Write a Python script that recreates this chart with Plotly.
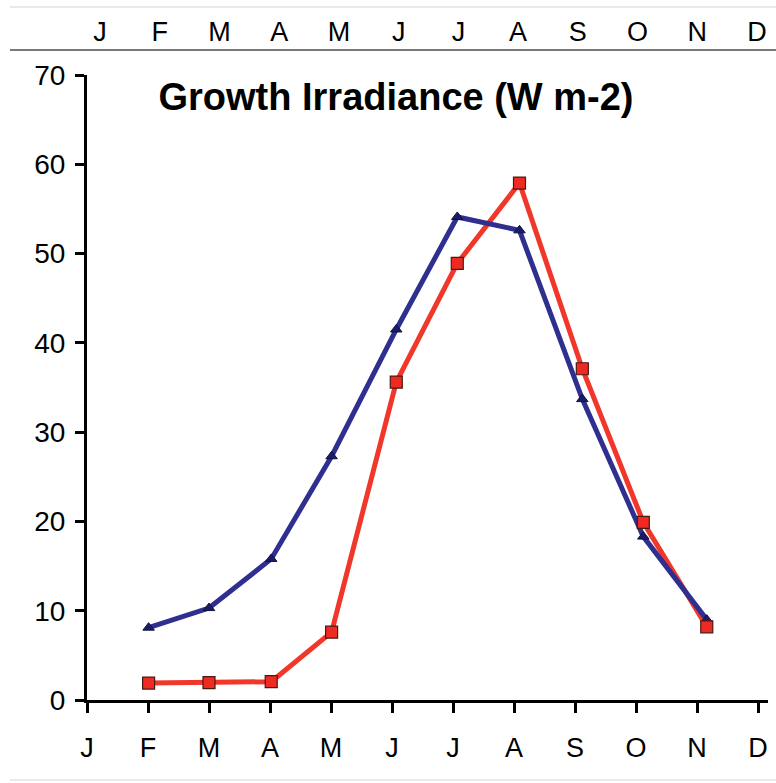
import plotly.graph_objects as go

# ---- data ----
month_labels = ["J", "F", "M", "A", "M", "J", "J", "A", "S", "O", "N", "D"]
month_ticks = list(range(12))
sample_pos = [1.01, 2.0, 3.02, 4.01, 5.07, 6.07, 7.09, 8.12, 9.12, 10.16]
blue_values = [8.1, 10.3, 15.8, 27.3, 41.5, 54.1, 52.6, 33.7, 18.3, 9.0]
red_values = [1.9, 1.95, 2.05, 7.6, 35.6, 48.9, 57.9, 37.1, 19.9, 8.2]
y_ticks = [0, 10, 20, 30, 40, 50, 60, 70]
title_text = "Growth Irradiance (W m-2)"

W, H = 776, 783
FONT = "Liberation Sans, Arial, sans-serif"

blue_line = "#2e2f8f"
red_line = "#f0372a"

fig = go.Figure()

fig.add_trace(go.Scatter(
    x=sample_pos, y=red_values, mode="lines",
    line=dict(color=red_line, width=5), hoverinfo="skip", showlegend=False,
))
fig.add_trace(go.Scatter(
    x=sample_pos, y=blue_values, mode="lines+markers",
    line=dict(color=blue_line, width=5),
    marker=dict(symbol="triangle-up", size=10, color="#1c1c66",
                line=dict(color="#111144", width=1)),
    showlegend=False,
))
fig.add_trace(go.Scatter(
    x=sample_pos, y=red_values, mode="markers",
    marker=dict(symbol="square", size=12, color="#ee2a22",
                line=dict(color="#4a1a12", width=1.2)),
    showlegend=False,
))

# invisible trace to activate top axis
fig.add_trace(go.Scatter(x=[0], y=[0], xaxis="x2", mode="markers",
                         marker=dict(opacity=0), hoverinfo="skip", showlegend=False))

x_left, x_right = 87, 768
px_per_month = 61.0
y_bottom, y_top = 700, 75

fig.update_layout(
    width=W, height=H,
    margin=dict(l=0, r=0, t=0, b=0, autoexpand=False),
    paper_bgcolor="white", plot_bgcolor="white",
    font=dict(family=FONT, color="black"),
    title=dict(text="<b>" + title_text + "</b>", x=396 / W, xanchor="center",
               y=1 - 97 / H, yanchor="middle",
               font=dict(size=38, family=FONT, color="black")),
    xaxis=dict(
        domain=[x_left / W, x_right / W],
        range=[0, (x_right - x_left) / px_per_month],
        tickmode="array", tickvals=month_ticks, ticktext=month_labels,
        ticks="outside", ticklen=10, tickwidth=2.5, tickcolor="black",
        showline=True, linewidth=3, linecolor="black",
        showgrid=False, zeroline=False, automargin=False,
        tickfont=dict(size=27, family=FONT, color="black"),
        ticklabelstandoff=12,
        anchor="y", fixedrange=True,
    ),
    xaxis2=dict(
        overlaying="x", side="top", anchor="free", position=1 - 50 / H,
        range=[-(100 - x_left) / 59.73, (x_right - 100) / 59.73],
        tickmode="array", tickvals=month_ticks, ticktext=month_labels,
        ticks="", showline=False, showgrid=False, zeroline=False,
        automargin=False, ticklabelstandoff=4,
        tickfont=dict(size=27, family=FONT, color="black"),
        fixedrange=True,
    ),
    yaxis=dict(
        domain=[1 - y_bottom / H, 1 - y_top / H],
        range=[0, 70],
        tickmode="array", tickvals=y_ticks,
        ticks="outside", ticklen=9, tickwidth=2.5, tickcolor="black",
        showline=True, linewidth=3, linecolor="black",
        showgrid=False, zeroline=False, automargin=False,
        tickfont=dict(size=28, family=FONT, color="black"),
        ticklabelstandoff=4,
        anchor="x", fixedrange=True,
    ),
    shapes=[
        dict(type="line", xref="paper", yref="paper", x0=10 / W, x1=1,
             y0=1 - 50 / H, y1=1 - 50 / H, line=dict(color="#7a7a7a", width=2)),
        dict(type="line", xref="paper", yref="paper", x0=10 / W, x1=1,
             y0=1 - 7 / H, y1=1 - 7 / H, line=dict(color="#e2e2e2", width=1.5)),
        dict(type="line", xref="paper", yref="paper", x0=10 / W, x1=1,
             y0=1 - 780 / H, y1=1 - 780 / H, line=dict(color="#e2e2e2", width=1.5)),
    ],
)

fig.write_html("out.html")
